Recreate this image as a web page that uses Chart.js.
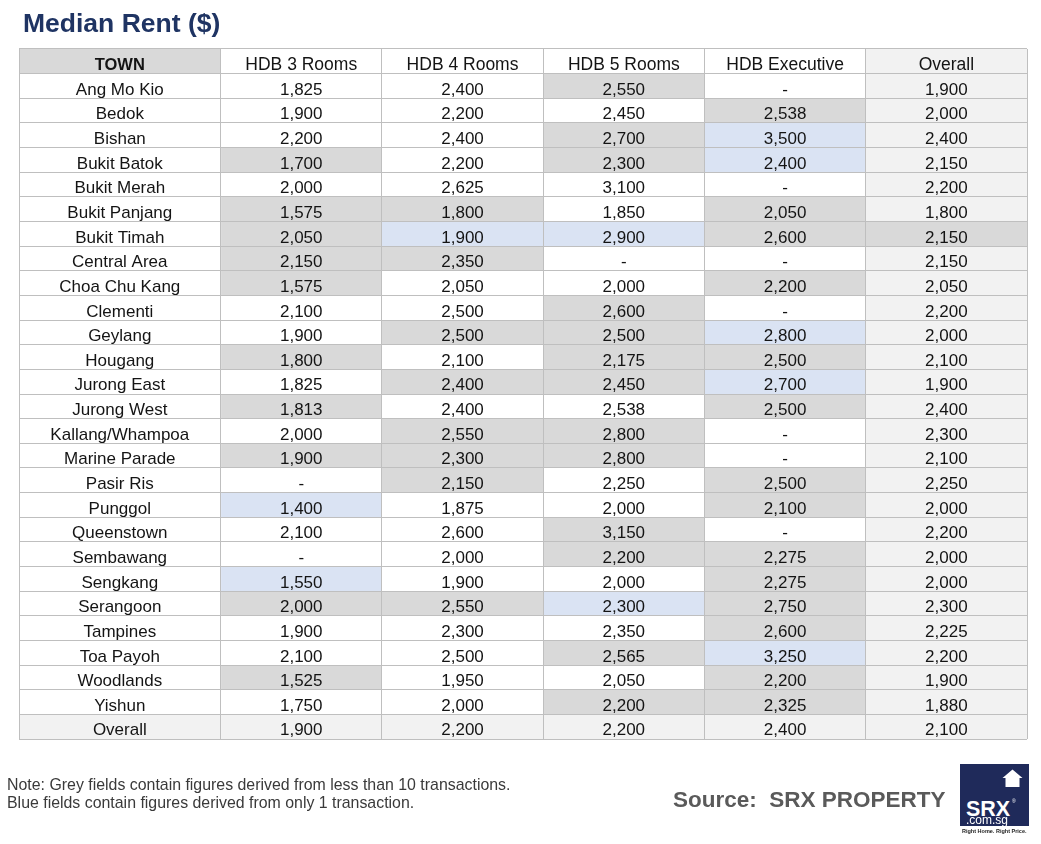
<!DOCTYPE html>
<html>
<head>
<meta charset="utf-8">
<script src="https://cdn.jsdelivr.net/npm/chart.js@4.4.1/dist/chart.umd.min.js"></script>
<style>
html,body{margin:0;padding:0;background:#fff;overflow:hidden;}
body{width:1041px;height:844px;position:relative;font-family:"Liberation Sans",Arial,sans-serif;}
#c{position:absolute;left:0;top:0;width:1041px;height:844px;}
#title{position:absolute;left:23px;top:8px;line-height:30px;font-size:26.5px;font-weight:bold;color:#1f3463;white-space:nowrap;}
#note{position:absolute;left:7px;top:776px;line-height:18px;font-size:15.9px;color:#3a3a3a;white-space:nowrap;}
#source{position:absolute;left:673px;top:786px;line-height:28px;font-size:22.5px;font-weight:bold;color:#5a5a5a;white-space:nowrap;}
#logo{position:absolute;left:960px;top:764px;width:69px;height:62px;background:#1f2a5a;}
#logo .srx{position:absolute;left:6px;top:33px;line-height:24px;font-size:21.5px;font-weight:bold;color:#fff;}
#logo .tm{position:absolute;left:52px;top:34px;line-height:6px;font-size:5px;color:#fff;}
#logo .dom{position:absolute;left:6px;top:49px;line-height:14px;font-size:12px;color:#fff;}
#logo svg{position:absolute;left:42px;top:5px;}
#tag{position:absolute;left:962px;top:828px;line-height:7px;font-size:5.5px;font-weight:bold;color:#222;white-space:nowrap;}
</style>
</head>
<body>
<canvas id="c" width="1041" height="844"></canvas>
<div id="title">Median Rent ($)</div>
<div id="note">Note: Grey fields contain figures derived from less than 10 transactions.<br>Blue fields contain figures derived from only 1 transaction.</div>
<div id="source">Source:&nbsp; SRX PROPERTY</div>
<div id="logo">
  <svg width="21" height="18" viewBox="0 0 21 18"><path d="M10.5 0.5 L20.5 9 L17.5 9 L17.5 18 L3.5 18 L3.5 9 L0.5 9 Z" fill="#fff"/></svg>
  <div class="srx">SRX</div><div class="tm">®</div>
  <div class="dom">.com.sg</div>
</div>
<div id="tag">Right Home. Right Price.</div>
<script>
// ---------- DATA ----------
const townHeader = 'TOWN';
const columns = ['HDB 3 Rooms', 'HDB 4 Rooms', 'HDB 5 Rooms', 'HDB Executive', 'Overall'];
const towns = ['Ang Mo Kio','Bedok','Bishan','Bukit Batok','Bukit Merah','Bukit Panjang','Bukit Timah','Central Area','Choa Chu Kang','Clementi','Geylang','Hougang','Jurong East','Jurong West','Kallang/Whampoa','Marine Parade','Pasir Ris','Punggol','Queenstown','Sembawang','Sengkang','Serangoon','Tampines','Toa Payoh','Woodlands','Yishun'];
const hdb3 = [1825,1900,2200,1700,2000,1575,2050,2150,1575,2100,1900,1800,1825,1813,2000,1900,null,1400,2100,null,1550,2000,1900,2100,1525,1750];
const hdb4 = [2400,2200,2400,2200,2625,1800,1900,2350,2050,2500,2500,2100,2400,2400,2550,2300,2150,1875,2600,2000,1900,2550,2300,2500,1950,2000];
const hdb5 = [2550,2450,2700,2300,3100,1850,2900,null,2000,2600,2500,2175,2450,2538,2800,2800,2250,2000,3150,2200,2000,2300,2350,2565,2050,2200];
const hdbExec = [null,2538,3500,2400,null,2050,2600,null,2200,null,2800,2500,2700,2500,null,null,2500,2100,null,2275,2275,2750,2600,3250,2200,2325];
const overallByTown = [1900,2000,2400,2150,2200,1800,2150,2150,2050,2200,2000,2100,1900,2400,2300,2100,2250,2000,2200,2000,2000,2300,2225,2200,1900,1880];
const overallLabel = 'Overall';
const overallRow = [1900,2200,2200,2400,2100];
// sample size flags: 'F' = fewer than 10 transactions, 'O' = only 1 transaction, '' = normal
const flags3 = ['','','','F','','F','F','F','F','','','F','','F','','F','','O','','','O','F','','','F',''];
const flags4 = ['','','','','','F','O','F','','','F','','F','','F','F','F','','','','','F','','','',''];
const flags5 = ['F','','F','F','','','O','','','F','F','F','F','','F','F','','','F','F','','O','','F','','F'];
const flagsExec = ['','F','O','O','','F','F','','F','','O','F','O','F','','','F','F','','F','F','F','F','O','F','F'];
const flagsOverall = ['','','','','','','F','','','','','','','','','','','','','','','','','','',''];

// ---------- BUILD ----------
const valueCols = [hdb3, hdb4, hdb5, hdbExec, overallByTown];
const flagCols = [flags3, flags4, flags5, flagsExec, flagsOverall];
const rowLabels = [townHeader, ...towns, overallLabel];
const nRows = rowLabels.length;
const TOWN_SPAN = 1.25;

const COL_FEW = '#d9d9d9', COL_ONE = '#dae3f3', COL_LIGHT = '#f2f2f2', COL_NONE = 'rgba(0,0,0,0)';
function cellColor(row, col) { // col -1 = town column
  if (row === 0) return col === -1 ? COL_FEW : (col === 4 ? COL_LIGHT : COL_NONE);
  if (row === nRows - 1) return COL_LIGHT;
  if (col === -1) return COL_NONE;
  const f = flagCols[col][row - 1];
  if (f === 'F') return COL_FEW;
  if (f === 'O') return COL_ONE;
  return col === 4 ? COL_LIGHT : COL_NONE;
}
const datasets = [];
datasets.push({
  data: rowLabels.map(() => [-TOWN_SPAN, 0]),
  backgroundColor: rowLabels.map((_, r) => cellColor(r, -1))
});
columns.forEach((_, c) => {
  datasets.push({
    data: rowLabels.map(() => [c, c + 1]),
    backgroundColor: rowLabels.map((_, r) => cellColor(r, c))
  });
});
datasets.forEach(d => Object.assign(d, {grouped:false, barPercentage:1, categoryPercentage:1, borderWidth:0, inflateAmount:0}));

const fmt = v => (v === null || v === undefined) ? '-' : v.toLocaleString('en-US');
function cellText(row, col) {
  if (row === 0) return col === -1 ? townHeader : columns[col];
  if (col === -1) return rowLabels[row];
  if (row === nRows - 1) return fmt(overallRow[col]);
  return fmt(valueCols[col][row - 1]);
}

const FONT = '"Liberation Sans", Arial, sans-serif';
const textPlugin = {
  id: 'cellText',
  afterDraw(chart) {
    const {ctx, scales: {x, y}} = chart;
    ctx.save();
    ctx.fillStyle = '#141414';
    ctx.textAlign = 'center';
    ctx.textBaseline = 'alphabetic';
    for (let r = 0; r < nRows; r++) {
      const py = y.getPixelForValue(r) + 8.8;
      for (let c = -1; c < columns.length; c++) {
        const px = c === -1 ? x.getPixelForValue(-TOWN_SPAN / 2) : x.getPixelForValue(c + 0.5);
        if (r === 0) ctx.font = (c === -1 ? 'bold 16.5px ' : '17.5px ') + FONT;
        else ctx.font = '17px ' + FONT;
        ctx.fillText(cellText(r, c), px, py);
      }
    }
    ctx.restore();
  }
};

new Chart(document.getElementById('c'), {
  type: 'bar',
  data: { labels: rowLabels, datasets },
  options: {
    indexAxis: 'y',
    responsive: false,
    animation: false,
    layout: { padding: { left: 19, right: 14, top: 49, bottom: 105 } },
    plugins: { legend: { display: false }, tooltip: { enabled: false }, title: { display: false } },
    scales: {
      y: {
        type: 'category', offset: true,
        ticks: { display: false },
        grid: { offset: true, color: '#bfbfbf', lineWidth: 1, drawTicks: false, z: 1 },
        border: { display: false },
        afterFit: s => { s.width = 0; }
      },
      x: {
        type: 'linear', min: -TOWN_SPAN, max: columns.length,
        afterBuildTicks: s => { s.ticks = [-TOWN_SPAN, ...columns.map((_, i) => i), columns.length].map(v => ({value: v})); },
        ticks: { display: false },
        grid: { color: '#bfbfbf', lineWidth: 1, drawTicks: false, z: 1 },
        border: { display: false },
        afterFit: s => { s.height = 0; }
      }
    }
  },
  plugins: [textPlugin]
});
</script>
</body>
</html>
